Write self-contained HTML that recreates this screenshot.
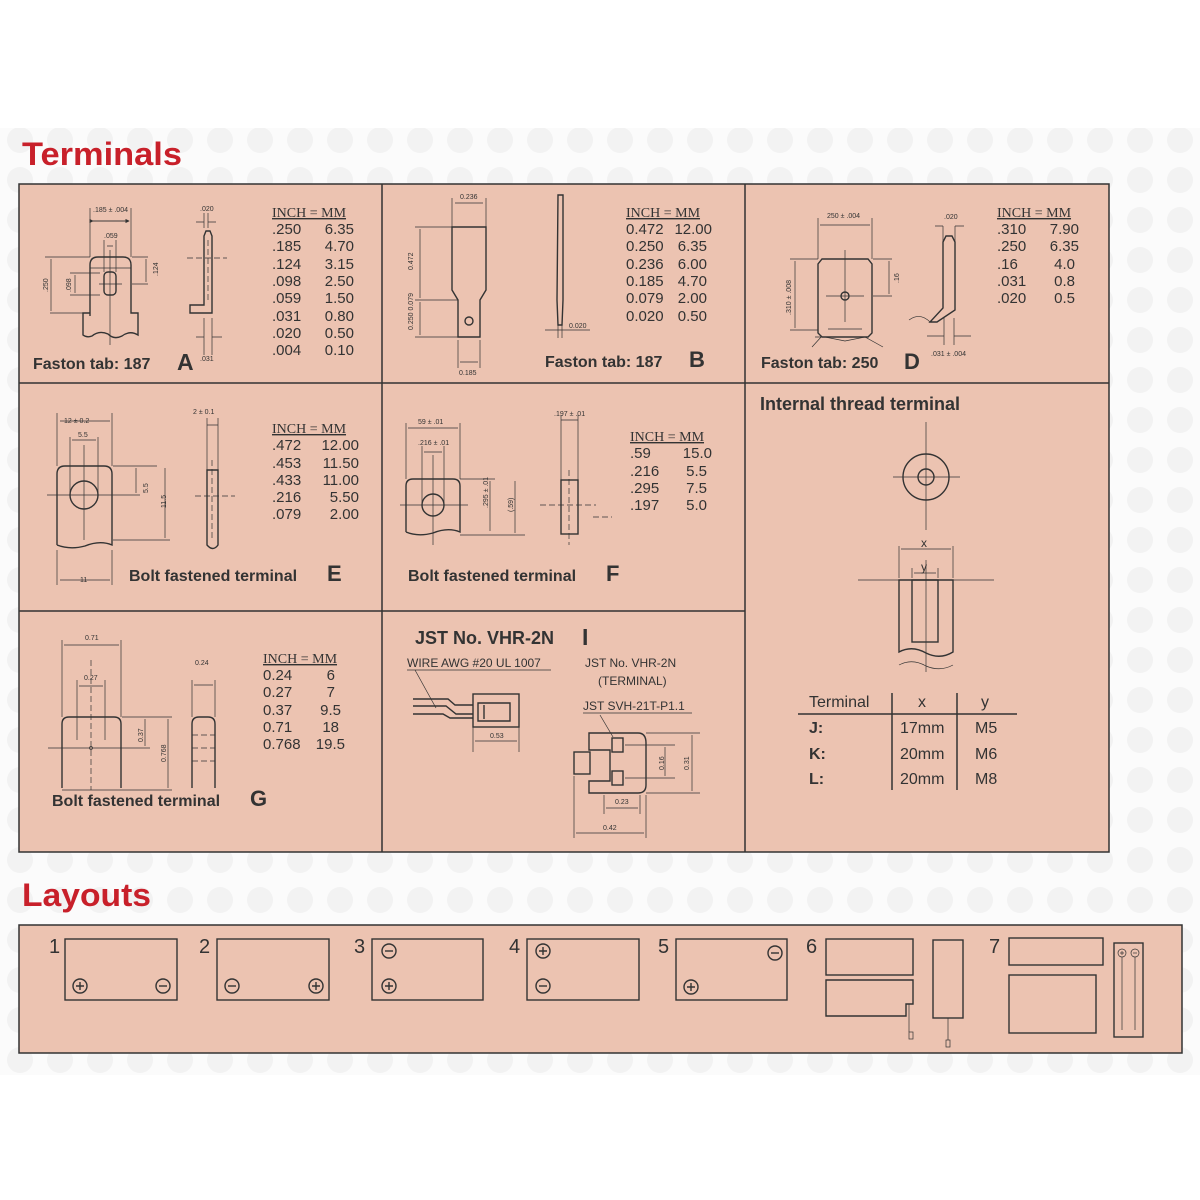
<!DOCTYPE html>
<html><head><meta charset="utf-8"><style>
html,body{margin:0;padding:0;background:#fff;}
svg{display:block;}
text{font-family:"Liberation Sans",sans-serif;fill:#333;}
.s{font-family:"Liberation Serif",serif;text-decoration:underline;}
.b{font-weight:bold;}
.ln{stroke:#333;stroke-width:1.4;fill:none;}
.th{stroke:#333;stroke-width:0.7;fill:none;}
.dl{stroke:#333;stroke-width:0.7;fill:none;stroke-dasharray:6 3;}
.sm{font-size:7px;}
</style></head><body>
<svg width="1200" height="1200" viewBox="0 0 1200 1200" xmlns="http://www.w3.org/2000/svg">
<defs>
<pattern id="dots" width="40" height="40" patternUnits="userSpaceOnUse">
<circle cx="20" cy="20" r="13" fill="#f2f2f2"/>
</pattern>
<marker id="ar" markerWidth="6" markerHeight="6" refX="5" refY="3" orient="auto"><path d="M0,0 L6,3 L0,6z" fill="#333"/></marker>
</defs>
<rect x="0" y="128" width="1200" height="947" fill="#fbfbfb"/>
<rect x="0" y="128" width="1200" height="947" fill="url(#dots)"/>

<text x="22" y="165" font-size="32" class="b" style="fill:#c8202a" textLength="160" lengthAdjust="spacingAndGlyphs">Terminals</text>
<text x="22" y="906" font-size="32" class="b" style="fill:#c8202a" textLength="129" lengthAdjust="spacingAndGlyphs">Layouts</text>

<rect x="19" y="184" width="1090" height="668" fill="#ecc3b1" stroke="#333" stroke-width="1.5"/>
<line x1="382" y1="184" x2="382" y2="852" stroke="#333" stroke-width="1.5"/>
<line x1="745" y1="184" x2="745" y2="852" stroke="#333" stroke-width="1.5"/>
<line x1="19" y1="383" x2="1109" y2="383" stroke="#333" stroke-width="1.5"/>
<line x1="19" y1="611" x2="745" y2="611" stroke="#333" stroke-width="1.5"/>

<!-- A -->
<g font-size="15">
<text x="272" y="217" class="s" font-size="14">INCH = MM</text>
<text x="272" y="234">.250</text><text x="354" y="234" text-anchor="end">6.35</text>
<text x="272" y="251">.185</text><text x="354" y="251" text-anchor="end">4.70</text>
<text x="272" y="269">.124</text><text x="354" y="269" text-anchor="end">3.15</text>
<text x="272" y="286">.098</text><text x="354" y="286" text-anchor="end">2.50</text>
<text x="272" y="303">.059</text><text x="354" y="303" text-anchor="end">1.50</text>
<text x="272" y="321">.031</text><text x="354" y="321" text-anchor="end">0.80</text>
<text x="272" y="338">.020</text><text x="354" y="338" text-anchor="end">0.50</text>
<text x="272" y="355">.004</text><text x="354" y="355" text-anchor="end">0.10</text>
</g>
<text x="33" y="369" font-size="16" class="b">Faston tab: 187</text>
<text x="177" y="370" font-size="23" class="b">A</text>
<text x="200" y="361" class="sm">.031</text>
<path class="ln" d="M90,316 V265 Q90,257 98,257 H123 Q131,257 131,265 V313 H138 V335 Q130,330 122,336 Q114,340 108,334 Q99,330 92,336 Q87,338 83,335 V313 H90"/>
<rect class="ln" x="104" y="272" width="12" height="23" rx="4"/>
<line class="th" x1="90" y1="268" x2="131" y2="268"/>
<path class="th" d="M90,257 V208 M131,257 V208 M93,221 H129 M104,272 V240 M116,272 V240 M107,246 H113 M110,250 V345 M99,284 H122"/>
<line class="th" x1="93" y1="221" x2="129" y2="221" marker-end="url(#ar)" marker-start="url(#ar)"/>
<text x="93" y="212" class="sm">.185 ± .004</text>
<text x="104" y="238" class="sm">.059</text>
<path class="th" d="M45,257 H90 M50,313 H83 M70,273 H100 M70,295 H100 M51,259 V311 M75,275 V293 M132,257 H148 M132,284 H148 M146,259 V282"/>
<text transform="translate(48,292) rotate(-90)" class="sm">.250</text>
<text transform="translate(71,292) rotate(-90)" class="sm">.098</text>
<text transform="translate(158,276) rotate(-90)" class="sm">.124</text>
<path class="ln" d="M204,305 V236 L206,231 H210 L212,236 V313 H190 V305 Z"/>
<path class="dl" d="M187,258 H227 M208,240 V300"/>
<path class="th" d="M204,228 V213 M208,228 V213 M196,222 H204 M208,222 H216 M204,318 V355 M212,318 V355 M196,337 H204 M212,337 H222"/>
<text x="200" y="211" class="sm">.020</text>

<!-- B -->
<g font-size="15">
<text x="626" y="217" class="s" font-size="14">INCH = MM</text>
<text x="626" y="234">0.472</text><text x="712" y="234" text-anchor="end">12.00</text>
<text x="626" y="251">0.250</text><text x="707" y="251" text-anchor="end">6.35</text>
<text x="626" y="269">0.236</text><text x="707" y="269" text-anchor="end">6.00</text>
<text x="626" y="286">0.185</text><text x="707" y="286" text-anchor="end">4.70</text>
<text x="626" y="303">0.079</text><text x="707" y="303" text-anchor="end">2.00</text>
<text x="626" y="321">0.020</text><text x="707" y="321" text-anchor="end">0.50</text>
</g>
<text x="545" y="367" font-size="16" class="b">Faston tab: 187</text>
<text x="689" y="367" font-size="22" class="b">B</text>
<path class="ln" d="M452,227 H486 V290 L480,300 V337 H458 V300 L452,290 Z"/>
<circle class="ln" cx="469" cy="321" r="4"/>
<path class="th" d="M452,227 V198 M486,227 V198 M455,203 H483 M415,227 H452 M415,300 H458 M415,337 H458 M420,229 V298 M420,302 V335 M458,340 V368 M480,340 V368 M460,362 H478"/>
<text x="460" y="199" class="sm">0.236</text>
<text x="459" y="375" class="sm">0.185</text>
<text transform="translate(413,270) rotate(-90)" class="sm">0.472</text>
<text transform="translate(413,330) rotate(-90)" class="sm">0.250 0.079</text>
<path class="ln" d="M558,195 H563 V300 L562,325 H558 L557,300 Z"/>
<path class="th" d="M545,330 H590 M558,325 V338 M562,325 V338 M565,330 H575"/>
<text x="569" y="328" class="sm">0.020</text>

<!-- D -->
<g font-size="15">
<text x="997" y="217" class="s" font-size="14">INCH = MM</text>
<text x="997" y="234">.310</text><text x="1079" y="234" text-anchor="end">7.90</text>
<text x="997" y="251">.250</text><text x="1079" y="251" text-anchor="end">6.35</text>
<text x="997" y="269">.16</text><text x="1075" y="269" text-anchor="end">4.0</text>
<text x="997" y="286">.031</text><text x="1075" y="286" text-anchor="end">0.8</text>
<text x="997" y="303">.020</text><text x="1075" y="303" text-anchor="end">0.5</text>
</g>
<text x="761" y="368" font-size="16" class="b">Faston tab: 250</text>
<text x="904" y="369" font-size="22" class="b">D</text>
<path class="ln" d="M818,333 V264 L822,259 H868 L872,264 V333 L868,337 H822 Z"/>
<path class="th" d="M815,337 L825,337 L845,341 L865,337 L883,347 M812,347 L822,336"/>
<circle class="ln" cx="845" cy="296" r="4"/>
<path class="th" d="M845,250 V322 M826,296 H864 M828,329 H862 M818,259 V218 M872,259 V218 M820,225 H870 M790,259 H818 M790,330 H818 M795,261 V328 M873,259 H892 M873,296 H892 M889,261 V294"/>
<text x="827" y="218" class="sm">250 ± .004</text>
<text transform="translate(791,315) rotate(-90)" class="sm">.310 ± .008</text>
<text transform="translate(899,283) rotate(-90)" class="sm">.16</text>
<path class="ln" d="M943,242 L946,236 H952 L955,242 V310 L937,322 H930 L943,308 Z"/>
<path class="th" d="M909,320 Q920,312 930,322 M943,258 V226 M955,258 V226 M935,226 H943 M955,226 H964 M944,318 V345 M954,318 V345 M927,336 H944 M954,336 H971"/>
<text x="944" y="219" class="sm">.020</text>
<text x="931" y="356" class="sm">.031 ± .004</text>

<!-- E -->
<g font-size="15">
<text x="272" y="433" class="s" font-size="14">INCH = MM</text>
<text x="272" y="450">.472</text><text x="359" y="450" text-anchor="end">12.00</text>
<text x="272" y="468">.453</text><text x="359" y="468" text-anchor="end">11.50</text>
<text x="272" y="485">.433</text><text x="359" y="485" text-anchor="end">11.00</text>
<text x="272" y="502">.216</text><text x="359" y="502" text-anchor="end">5.50</text>
<text x="272" y="519">.079</text><text x="359" y="519" text-anchor="end">2.00</text>
</g>
<text x="129" y="581" font-size="16" class="b">Bolt fastened terminal</text>
<text x="327" y="581" font-size="22" class="b">E</text>
<path class="ln" d="M57,545 V474 Q57,466 65,466 H104 Q112,466 112,474 V545 Q100,540 85,546 Q70,550 57,545"/>
<circle class="ln" cx="84" cy="495" r="14"/>
<path class="th" d="M47,495 H122 M84,445 V540 M57,466 V413 M112,466 V413 M60,421 H110 M70,495 V437 M98,495 V437 M72,440 H96 M113,466 H157 M113,495 H140 M136,468 V493 M113,540 H170 M165,468 V538 M57,550 V585 M112,550 V585 M60,580 H110"/>
<text x="64" y="423" class="sm" font-size="8">12  ±  0.2</text>
<text x="78" y="437" class="sm" font-size="8">5.5</text>
<text transform="translate(148,493) rotate(-90)" class="sm">5.5</text>
<text transform="translate(166,508) rotate(-90)" class="sm">11.5</text>
<text x="80" y="582" class="sm">11</text>
<path class="ln" d="M207,470 H218 V545 Q213,552 207,545 Z"/>
<path class="dl" d="M195,496 H235 M212,460 V540"/>
<path class="th" d="M207,470 V418 M218,470 V418 M207,425 H218"/>
<text x="193" y="414" class="sm">2     ±    0.1</text>

<!-- F -->
<g font-size="15">
<text x="630" y="441" class="s" font-size="14">INCH = MM</text>
<text x="630" y="458">.59</text><text x="712" y="458" text-anchor="end">15.0</text>
<text x="630" y="476">.216</text><text x="707" y="476" text-anchor="end">5.5</text>
<text x="630" y="493">.295</text><text x="707" y="493" text-anchor="end">7.5</text>
<text x="630" y="510">.197</text><text x="707" y="510" text-anchor="end">5.0</text>
</g>
<text x="408" y="581" font-size="16" class="b">Bolt fastened terminal</text>
<text x="606" y="581" font-size="22" class="b">F</text>
<path class="ln" d="M406,532 V486 Q406,479 413,479 H453 Q460,479 460,486 V532 Q448,527 433,533 Q418,537 406,532"/>
<circle class="ln" cx="433" cy="505" r="11"/>
<path class="th" d="M400,505 H468 M433,455 V545 M406,479 V423 M460,479 V423 M408,428 H458 M422,505 V446 M444,505 V446 M424,452 H442 M460,479 H495 M490,481 V531 M460,535 H525 M515,481 V533"/>
<text x="418" y="424" class="sm">59 ± .01</text>
<text x="418" y="445" class="sm">.216 ± .01</text>
<text transform="translate(488,508) rotate(-90)" class="sm">.295 ± .01</text>
<text transform="translate(513,512) rotate(-90)" class="sm">(.59)</text>
<rect class="ln" x="561" y="480" width="17" height="54"/>
<path class="dl" d="M540,505 H596 M569,470 V545 M593,517 H612"/>
<path class="th" d="M561,480 V415 M578,480 V415 M561,420 H578"/>
<text x="554" y="416" class="sm">.197 ± .01</text>

<!-- Internal thread -->
<text x="760" y="410" font-size="18" class="b">Internal thread terminal</text>
<circle class="ln" cx="926" cy="477" r="23"/>
<circle class="ln" cx="926" cy="477" r="8"/>
<path class="th" d="M926,422 V530 M893,477 H960"/>
<path class="ln" d="M899,580 V652 Q912,645 926,653 Q940,660 953,652 V580 Z"/>
<rect class="ln" x="912" y="580" width="26" height="62"/>
<path class="th" d="M899,578 V546 M953,578 V546 M901,549 H951 M912,578 V568 M938,578 V568 M914,573 H936 M858,580 H994 M926,560 V672 M899,665 Q912,658 926,666 Q940,672 953,665"/>
<text x="921" y="547" font-size="12">x</text>
<text x="921" y="571" font-size="12">y</text>
<line x1="798" y1="714" x2="1017" y2="714" stroke="#333" stroke-width="1.5"/>
<line x1="892" y1="693" x2="892" y2="790" stroke="#333" stroke-width="1.5"/>
<line x1="957" y1="693" x2="957" y2="790" stroke="#333" stroke-width="1.5"/>
<g font-size="16">
<text x="809" y="707">Terminal</text><text x="918" y="707">x</text><text x="981" y="707">y</text>
<text x="809" y="733" class="b">J:</text><text x="900" y="733">17mm</text><text x="975" y="733">M5</text>
<text x="809" y="759" class="b">K:</text><text x="900" y="759">20mm</text><text x="975" y="759">M6</text>
<text x="809" y="784" class="b">L:</text><text x="900" y="784">20mm</text><text x="975" y="784">M8</text>
</g>

<!-- G -->
<g font-size="15">
<text x="263" y="663" class="s" font-size="14">INCH = MM</text>
<text x="263" y="680">0.24</text><text x="335" y="680" text-anchor="end">6</text>
<text x="263" y="697">0.27</text><text x="335" y="697" text-anchor="end">7</text>
<text x="263" y="715">0.37</text><text x="341" y="715" text-anchor="end">9.5</text>
<text x="263" y="732">0.71</text><text x="339" y="732" text-anchor="end">18</text>
<text x="263" y="749">0.768</text><text x="345" y="749" text-anchor="end">19.5</text>
</g>
<text x="52" y="806" font-size="16" class="b">Bolt fastened terminal</text>
<text x="250" y="806" font-size="22" class="b">G</text>
<path class="ln" d="M62,788 V724 Q62,717 69,717 H114 Q121,717 121,724 V788"/>
<circle class="th" cx="91" cy="748" r="1.5"/>
<path class="dl" d="M91,660 V790"/>
<path class="th" d="M48,748 H135 M62,717 V640 M121,717 V640 M64,645 H119 M77,740 V680 M105,740 V680 M79,686 H103 M122,717 H150 M122,748 H150 M145,719 V746 M62,790 H172 M168,719 V788 M122,717 H172"/>
<text x="85" y="640" class="sm">0.71</text>
<text x="84" y="680" class="sm">0.27</text>
<text transform="translate(143,742) rotate(-90)" class="sm">0.37</text>
<text transform="translate(166,762) rotate(-90)" class="sm">0.768</text>
<path class="ln" d="M192,788 V724 Q192,717 199,717 H208 Q215,717 215,724 V788"/>
<path class="dl" d="M192,735 H215 M192,748 H215 M192,761 H215"/>
<path class="th" d="M192,717 V680 M215,717 V680 M194,685 H213"/>
<text x="195" y="665" class="sm">0.24</text>

<!-- I -->
<text x="415" y="644" font-size="18" class="b">JST No. VHR-2N</text>
<text x="582" y="645" font-size="23" class="b">I</text>
<text x="407" y="667" font-size="12">WIRE AWG #20 UL 1007</text>
<line class="th" x1="407" y1="670" x2="551" y2="670"/>
<path class="th" d="M415,670 L436,708"/>
<text x="585" y="667" font-size="12">JST No. VHR-2N</text>
<text x="598" y="685" font-size="12">(TERMINAL)</text>
<text x="583" y="710" font-size="12">JST SVH-21T-P1.1</text>
<line class="th" x1="583" y1="713" x2="692" y2="713"/>
<path class="th" d="M600,715 L613,737"/>
<path class="ln" d="M413,699 H448 L455,705 H473 M413,706 H446 L456,714 H473 M413,714 H443 L450,718 H473"/>
<rect class="ln" x="473" y="694" width="46" height="33"/>
<path class="ln" d="M478,703 H510 V721 H478 Z M484,705 V719"/>
<path class="th" d="M473,727 V752 M519,727 V752 M475,741 H517"/>
<text x="490" y="738" class="sm">0.53</text>
<path class="ln" d="M589,733 V750 H610 V781 H589 V793 H638 Q646,793 646,785 V743 Q646,733 638,733 Z"/>
<rect class="ln" x="574" y="752" width="16" height="22"/>
<rect class="ln" x="612" y="738" width="11" height="14"/>
<rect class="ln" x="612" y="771" width="11" height="14"/>
<path class="th" d="M625,745 H675 M625,778 H675 M665,747 V776 M646,733 H700 M646,793 H700 M692,735 V791 M604,795 V814 M640,795 V814 M606,808 H638 M574,776 V838 M646,795 V838 M576,833 H644"/>
<text transform="translate(664,770) rotate(-90)" class="sm">0.16</text>
<text transform="translate(689,770) rotate(-90)" class="sm">0.31</text>
<text x="615" y="804" class="sm">0.23</text>
<text x="603" y="830" class="sm">0.42</text>

<!-- Layouts -->
<rect x="19" y="925" width="1163" height="128" fill="#ecc3b1" stroke="#333" stroke-width="1.5"/>
<g font-size="20">
<text x="49" y="953">1</text><text x="199" y="953">2</text><text x="354" y="953">3</text>
<text x="509" y="953">4</text><text x="658" y="953">5</text><text x="806" y="953">6</text><text x="989" y="953">7</text>
</g>
<g class="ln">
<rect x="65" y="939" width="112" height="61"/>
<rect x="217" y="939" width="112" height="61"/>
<rect x="372" y="939" width="111" height="61"/>
<rect x="527" y="939" width="112" height="61"/>
<rect x="676" y="939" width="111" height="61"/>
<rect x="826" y="939" width="87" height="36"/>
<path d="M826,980 H913 V1004 H906 V1016 H826 Z"/>
<rect x="933" y="940" width="30" height="78"/>
<rect x="1009" y="938" width="94" height="27"/>
<rect x="1009" y="975" width="87" height="58"/>
<rect x="1114" y="943" width="29" height="94"/>
</g>
<path class="th" d="M909,1004 V1032 M948,1018 V1040"/>
<rect class="th" x="909" y="1032" width="4" height="7"/>
<rect class="th" x="946" y="1040" width="4" height="7"/>
<g class="ln">
<circle cx="80" cy="986" r="7"/><path d="M76,986 H84 M80,982 V990"/>
<circle cx="163" cy="986" r="7"/><path d="M159,986 H167"/>
<circle cx="232" cy="986" r="7"/><path d="M228,986 H236"/>
<circle cx="316" cy="986" r="7"/><path d="M312,986 H320 M316,982 V990"/>
<circle cx="389" cy="951" r="7"/><path d="M385,951 H393"/>
<circle cx="389" cy="986" r="7"/><path d="M385,986 H393 M389,982 V990"/>
<circle cx="543" cy="951" r="7"/><path d="M539,951 H547 M543,947 V955"/>
<circle cx="543" cy="986" r="7"/><path d="M539,986 H547"/>
<circle cx="775" cy="953" r="7"/><path d="M771,953 H779"/>
<circle cx="691" cy="987" r="7"/><path d="M687,987 H695 M691,983 V991"/>
</g>
<g class="th">
<circle cx="1122" cy="953" r="4"/><path d="M1120,953 H1124 M1122,951 V955"/>
<circle cx="1135" cy="953" r="4"/><path d="M1133,953 H1137"/>
<path d="M1122,957 V1030 M1135,957 V1030"/>
</g>
</svg>
</body></html>
